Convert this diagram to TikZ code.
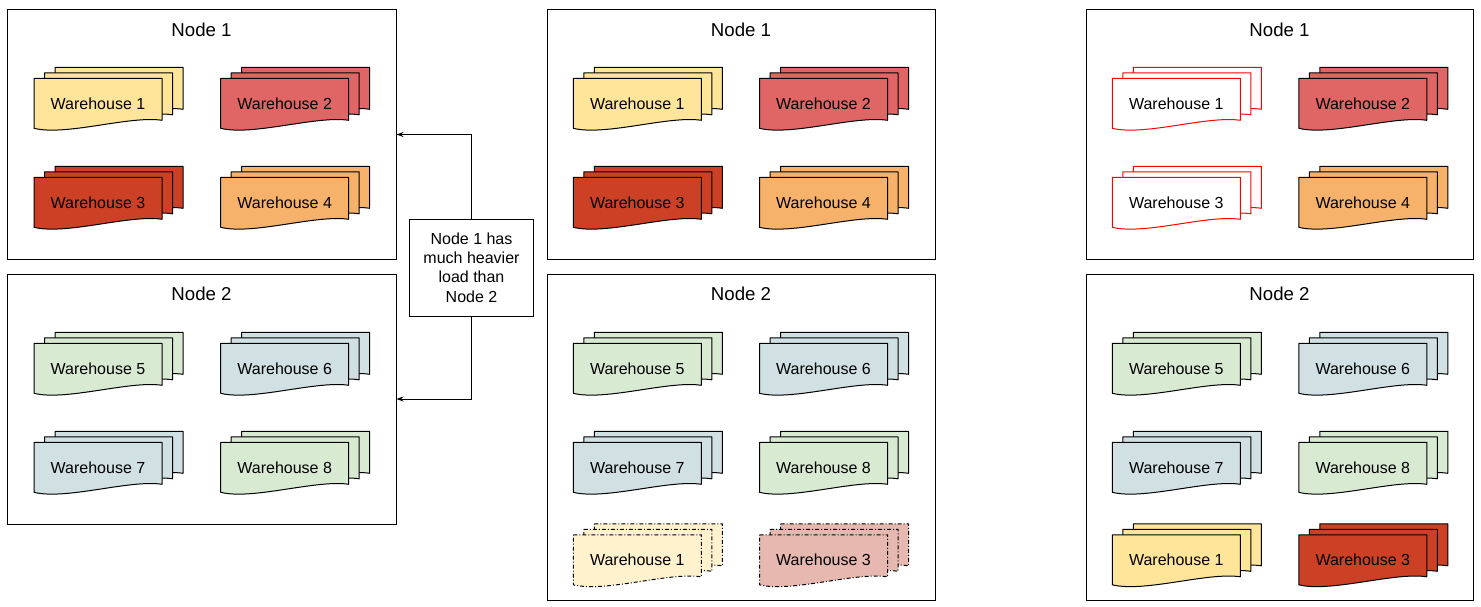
\documentclass[tikz,border=0pt]{standalone}
\usepackage{fontspec}
\setmainfont{Liberation Sans}
\usetikzlibrary{arrows.meta}

\definecolor{wone}{HTML}{FFE599}
\definecolor{wtwo}{HTML}{E06666}
\definecolor{wthree}{HTML}{CC4125}
\definecolor{wfour}{HTML}{F6B26B}
\definecolor{wgreen}{HTML}{D9EAD3}
\definecolor{wblue}{HTML}{D0E0E3}
\definecolor{wonelight}{HTML}{FFF2CC}
\definecolor{wthreelight}{HTML}{E6B8AF}

\tikzset{
  sheet/.style={draw=black, line width=1pt, line join=round},
  ghost/.style={sheet, dash pattern=on 4pt off 2pt on 1pt off 2pt},
  moved/.style={draw=red, line width=1pt, line join=round, fill=white},
  wlabel/.style={font=\fontsize{16}{19.2}\selectfont, inner sep=0pt},
  title/.style={font=\fontsize{18.67}{22.4}\selectfont, inner sep=0pt},
  nodebox/.style={draw, line width=1pt, inner sep=0pt},
  note/.style={draw, line width=1pt, minimum width=124pt, minimum height=97pt,
    align=center, inner sep=0pt, font=\fontsize{16}{19.2}\selectfont},
  arr/.style={line width=1pt, -{Stealth[length=7pt,width=5pt]}}
}

% one sheet of a stack, top left corner at (#1,#2)
\newcommand{\sheet}[3]{%
  \draw[#3,shift={(#1,#2)}] (0,0) -- (128,0) -- (128,42)
    .. controls (96,37) and (32,58) .. (0,50) -- cycle;}
% a warehouse: three sheets and its label
\newcommand{\whouse}[5]{%
  \sheet{#2+21}{#3-11}{#4}
  \sheet{#2+10.5}{#3-5.5}{#4}
  \sheet{#2}{#3}{#4}
  \node[wlabel] (#1) at (#2+64,#3+25) {#5};}

\begin{document}
\begin{tikzpicture}[x=1pt,y=-1pt]
\useasboundingbox (0,0) rectangle (1481,607);

% The node boxes and their titles
\node[nodebox, minimum width=389pt, minimum height=249pt] (l1) at (201.5,134.5) {};
\node[nodebox, minimum width=389pt, minimum height=250pt] (l2) at (201.5,399) {};
\node[nodebox, minimum width=388pt, minimum height=249pt] (m1) at (741,134.5) {};
\node[nodebox, minimum width=388pt, minimum height=326pt] (m2) at (741,437) {};
\node[nodebox, minimum width=387pt, minimum height=249pt] (r1) at (1279.5,134.5) {};
\node[nodebox, minimum width=387pt, minimum height=326pt] (r2) at (1279.5,437) {};
\foreach \b/\t in {l1/Node 1, l2/Node 2, m1/Node 1, m2/Node 2, r1/Node 1, r2/Node 2}
{
  \node[title] (\b t) at ([yshift=-20pt]\b.north) {\t};
}

% Left: the unbalanced nodes
\foreach \n/\c/\x/\y in {1/wone/34/78.3, 2/wtwo/220.7/78.3, 3/wthree/34/177.3, 4/wfour/220.7/177.3,
                         5/wgreen/34/343.3, 6/wblue/220.7/343.3, 7/wblue/34/442.3, 8/wgreen/220.7/442.3}
{
  \whouse{a\n}{\x}{\y}{sheet, fill=\c}{Warehouse \n}
}

% Middle: warehouses 1 and 3 being copied to node 2
\foreach \n/\c/\x/\y in {1/wone/573.3/78.3, 2/wtwo/759.5/78.3, 3/wthree/573.3/177.3, 4/wfour/759.5/177.3,
                         5/wgreen/573.3/343.3, 6/wblue/759.5/343.3, 7/wblue/573.3/442.3, 8/wgreen/759.5/442.3}
{
  \whouse{b\n}{\x}{\y}{sheet, fill=\c}{Warehouse \n}
}
\whouse{bg1}{573.3}{534.8}{ghost, fill=wonelight}{Warehouse 1}
\whouse{bg3}{759.5}{534.8}{ghost, fill=wthreelight}{Warehouse 3}

% Right: after the move, node 1 keeps only red outlines
\whouse{c1}{1112.3}{78.3}{moved}{Warehouse 1}
\whouse{c3}{1112.3}{177.3}{moved}{Warehouse 3}
\foreach \n/\c/\x/\y in {2/wtwo/1298.8/78.3, 4/wfour/1298.8/177.3,
                         5/wgreen/1112.3/343.3, 6/wblue/1298.8/343.3, 7/wblue/1112.3/442.3, 8/wgreen/1298.8/442.3}
{
  \whouse{c\n}{\x}{\y}{sheet, fill=\c}{Warehouse \n}
}
\whouse{cn1}{1112.3}{534.8}{sheet, fill=wone}{Warehouse 1}
\whouse{cn3}{1298.8}{534.8}{sheet, fill=wthree}{Warehouse 3}

% The note between the left nodes
\node[note] (load) at (471.5,267.5) {Node 1 has\\much heavier\\load than\\Node 2};
\draw[arr] (load.north) |- (l1.east);
\draw[arr] (load.south) |- (l2.east);

\end{tikzpicture}
\end{document}
